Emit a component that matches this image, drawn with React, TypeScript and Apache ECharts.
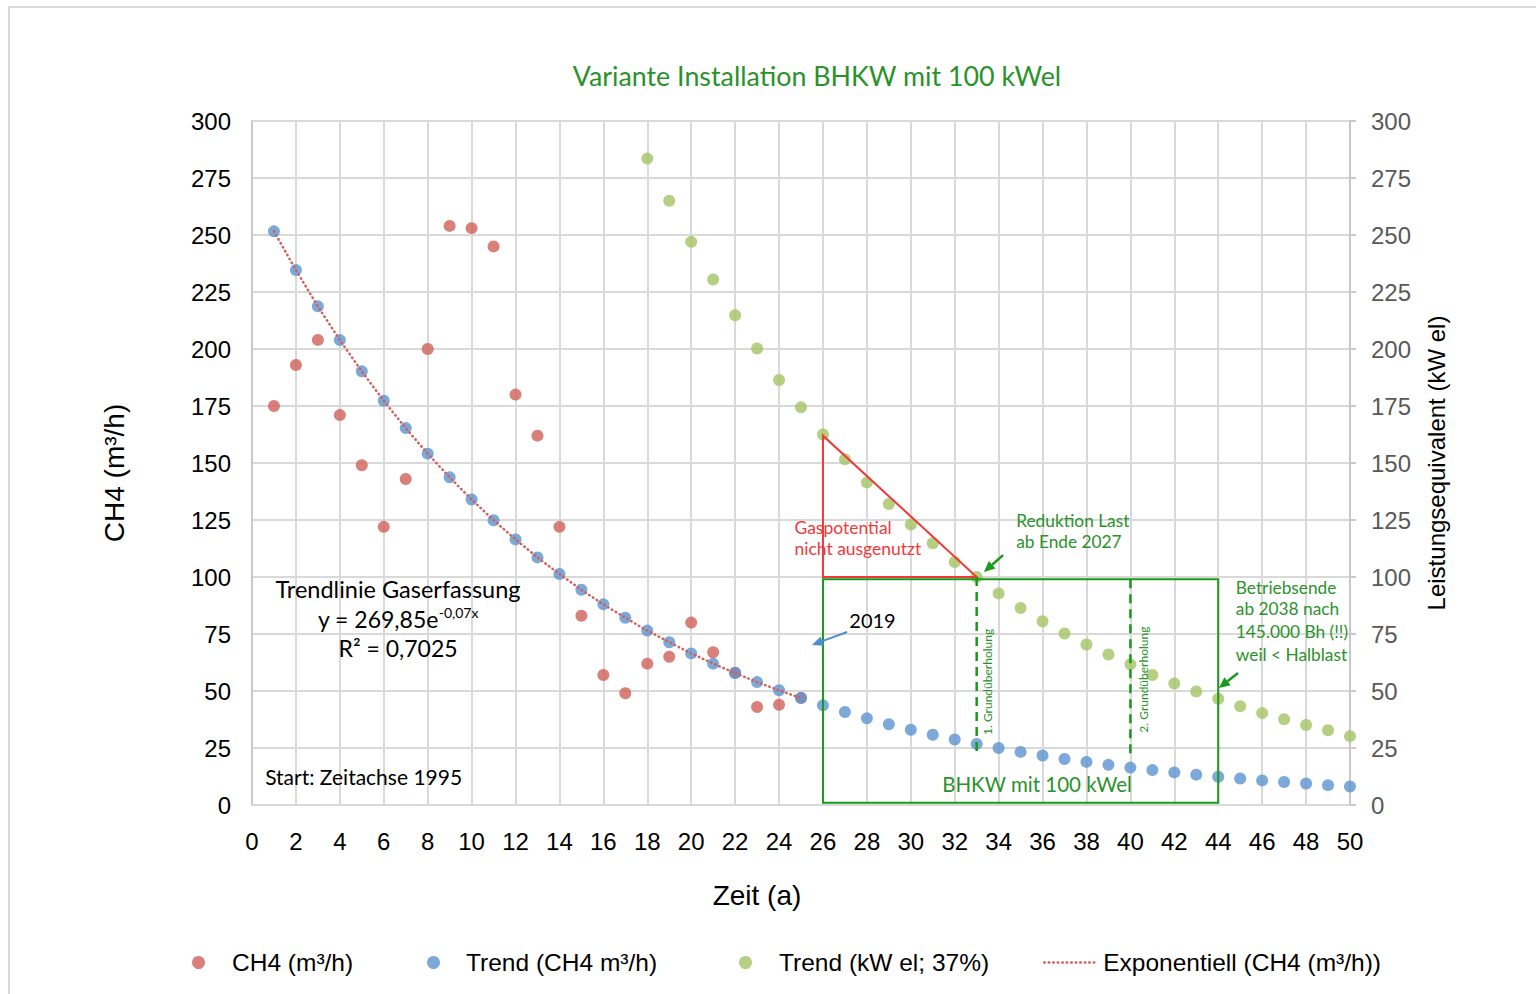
import React, { useEffect, useRef } from "react";
import * as echarts from "echarts";

// ---- Data ----
const ch4X = [1, 2, 3, 4, 5, 6, 7, 8, 9, 10, 11, 12, 13, 14, 15, 16, 17, 18, 19, 20, 21, 22, 23, 24, 25];
const ch4Values = [175, 193, 204, 171, 149, 122, 143, 200, 254, 253, 245, 180, 162, 122, 83, 57, 49, 62, 65, 80, 67, 58, 43, 44, 47];

const trendX = [1, 2, 3, 4, 5, 6, 7, 8, 9, 10, 11, 12, 13, 14, 15, 16, 17, 18, 19, 20, 21, 22, 23, 24, 25,
  26, 27, 28, 29, 30, 31, 32, 33, 34, 35, 36, 37, 38, 39, 40, 41, 42, 43, 44, 45, 46, 47, 48, 49, 50];
const trendCh4 = [251.6, 234.6, 218.7, 203.9, 190.2, 177.3, 165.3, 154.1, 143.7, 134.0, 124.9, 116.5, 108.6, 101.3, 94.4,
  88.0, 82.1, 76.5, 71.4, 66.5, 62.0, 57.9, 53.9, 50.3, 46.9, 43.7, 40.8, 38.0, 35.4, 33.0, 30.8, 28.7, 26.8, 25.0, 23.3,
  21.7, 20.2, 18.9, 17.6, 16.4, 15.3, 14.3, 13.3, 12.4, 11.6, 10.8, 10.1, 9.4, 8.7, 8.1];

const kwX = [18, 19, 20, 21, 22, 23, 24, 25, 26, 27, 28, 29, 30, 31, 32, 33, 34, 35, 36, 37, 38, 39, 40, 41, 42, 43, 44, 45, 46, 47, 48, 49, 50];
const kwValues = [283.5, 265, 247, 230.5, 214.8, 200.2, 186.4, 174.4, 162.5, 151.6, 141.5, 132, 123, 114.8, 106.6, 100, 92.8,
  86.4, 80.6, 75.2, 70.4, 66, 61.7, 57, 53.3, 49.8, 46.6, 43.3, 40.3, 37.6, 35.1, 32.8, 30.2];

// Exponential trendline (over the CH4 measurement range)
const expX = ch4X;
const expValues = trendCh4.slice(0, 25);

const xTicks = { min: 0, max: 50, interval: 2 };
const yTicks = { min: 0, max: 300, interval: 25 };

const names = {
  ch4: "CH4 (m³/h)",
  trend: "Trend (CH4 m³/h)",
  kw: "Trend (kW el; 37%)",
  exp: "Exponentiell (CH4 (m³/h))",
};

const RED = "#D0605A";
const BLUE = "#5B93CF";
const GREEN = "#A3C464";
const LINE_GREEN = "#1a9a1a";
const TEXT_GREEN = "#2a922a";
const ANN_RED = "#f03a3a";
const CAL = "Lato, 'Open Sans', sans-serif";
const ARIAL = "'Liberation Sans', Arial, sans-serif";

export default function App() {
  const ref = useRef<HTMLDivElement>(null);

  useEffect(() => {
    if (!ref.current) return;
    const chart = echarts.init(ref.current, null, { renderer: "svg" });

    const legendBase = (name: string, left: number, itemWidth: number, padLeft: number) => ({
      data: [name],
      left,
      top: 945,
      orient: "horizontal",
      itemWidth,
      itemHeight: 13,
      textStyle: { fontFamily: ARIAL, fontSize: 24.5, color: "#000", padding: [0, 0, 0, padLeft] },
    });

    chart.setOption({
      animation: false,
      backgroundColor: "#fff",
      title: {
        text: "Variante Installation BHKW mit 100 kWel",
        left: 812,
        top: 57,
        textAlign: "center",
        textStyle: { fontFamily: CAL, fontSize: 26.8, fontWeight: "normal", color: TEXT_GREEN },
      },
      legend: [
        { ...legendBase(names.ch4, 187, 13, 22), icon: "circle" },
        { ...legendBase(names.trend, 422, 13, 21), icon: "circle" },
        { ...legendBase(names.kw, 734, 13, 22), icon: "circle" },
        {
          ...legendBase(names.exp, 1038, 54, 0),
          itemStyle: { color: "rgba(0,0,0,0)", borderWidth: 0 },
          lineStyle: { color: RED, width: 2.5, type: [0.5, 4], cap: "round" },
        },
      ],
      grid: { left: 252, right: 186, top: 121, bottom: 189, containLabel: false },
      xAxis: {
        type: "value",
        min: xTicks.min,
        max: xTicks.max,
        interval: xTicks.interval,
        name: "Zeit (a)",
        nameLocation: "middle",
        nameGap: 76,
        nameTextStyle: { fontFamily: ARIAL, fontSize: 28, color: "#000", padding: [0, 88, 0, 0] },
        axisLine: { show: true, lineStyle: { color: "#d9d9d9", width: 2 } },
        axisTick: { show: false },
        axisLabel: { fontFamily: ARIAL, fontSize: 24, color: "#000", margin: 24 },
        splitLine: { show: true, lineStyle: { color: "#d9d9d9", width: 2 } },
      },
      yAxis: [
        {
          type: "value",
          min: yTicks.min,
          max: yTicks.max,
          interval: yTicks.interval,
          position: "left",
          name: "CH4 (m³/h)",
          nameLocation: "middle",
          nameRotate: 90,
          nameGap: 124,
          nameTextStyle: { fontFamily: ARIAL, fontSize: 28, color: "#000", padding: [0, 20, 0, 0] },
          axisLine: { show: true, lineStyle: { color: "#c8c8c8", width: 2 } },
          axisTick: { show: false },
          axisLabel: { fontFamily: ARIAL, fontSize: 24, color: "#000", margin: 21 },
          splitLine: { show: true, lineStyle: { color: "#d9d9d9", width: 2 } },
        },
        {
          type: "value",
          min: yTicks.min,
          max: yTicks.max,
          interval: yTicks.interval,
          position: "right",
          name: "Leistungsequivalent (kW el)",
          nameLocation: "middle",
          nameRotate: 90,
          nameGap: 74,
          nameTextStyle: { fontFamily: ARIAL, fontSize: 24, color: "#000" },
          axisLine: { show: true, lineStyle: { color: "#c8c8c8", width: 2 } },
          axisTick: { show: true, length: 6, lineStyle: { color: "#c8c8c8", width: 2 } },
          axisLabel: { fontFamily: ARIAL, fontSize: 24, color: "#595959", margin: 21 },
          splitLine: { show: false },
        },
      ],
      series: [
        {
          name: names.ch4,
          type: "scatter",
          symbol: "circle",
          symbolSize: 12,
          itemStyle: { color: RED },
          data: ch4X.map((x, i) => [x, ch4Values[i]]),
          z: 2,
        },
        {
          name: names.trend,
          type: "scatter",
          symbol: "circle",
          symbolSize: 12,
          itemStyle: { color: BLUE },
          data: trendX.map((x, i) => [x, trendCh4[i]]),
          z: 3,
        },
        {
          name: names.kw,
          type: "scatter",
          symbol: "circle",
          symbolSize: 12,
          yAxisIndex: 1,
          itemStyle: { color: GREEN },
          data: kwX.map((x, i) => [x, kwValues[i]]),
          z: 3,
        },
        {
          name: names.exp,
          type: "line",
          showSymbol: false,
          symbol: "none",
          itemStyle: { color: RED },
          lineStyle: { color: RED, width: 2.5, type: [0.5, 4], cap: "round" },
          data: expX.map((x, i) => [x, expValues[i]]),
          z: 4,
        },
      ],
    });

    const p = (x: number, y: number) => chart.convertToPixel({ xAxisIndex: 0, yAxisIndex: 0 }, [x, y]) as number[];

    const arrow = (from: number[], to: number[], color: string, width: number) => {
      const dx = to[0] - from[0];
      const dy = to[1] - from[1];
      const len = Math.sqrt(dx * dx + dy * dy);
      const ux = dx / len, uy = dy / len;
      const hl = 11, hw = 5;
      const bx = to[0] - ux * hl, by = to[1] - uy * hl;
      return [
        { type: "line", shape: { x1: from[0], y1: from[1], x2: bx, y2: by }, style: { stroke: color, lineWidth: width }, z: 20 },
        {
          type: "polygon",
          shape: { points: [[to[0], to[1]], [bx - uy * hw, by + ux * hw], [bx + uy * hw, by - ux * hw]] },
          style: { fill: color },
          z: 20,
        },
      ];
    };

    const text = (x: number, y: number, t: string, size: number, color: string, align = "left", extra: any = {}) => {
      const q = p(x, y);
      return {
        type: "text",
        x: q[0],
        y: q[1],
        z: 20,
        ...extra,
        style: { text: t, fontFamily: CAL, fontSize: size, fill: color, align, verticalAlign: "middle", ...(extra.style || {}) },
      };
    };

    const tri = [p(26, 162), p(26, 100), p(33, 100)];
    const b1 = p(26, 99);
    const b2 = p(44, 1);
    const d1a = p(33, 100), d1b = p(33, 22);
    const d2a = p(40, 99), d2b = p(40, 22);
    const g1 = p(33.5, 54), g2 = p(40.6, 55);

    const graphic: any[] = [
      { type: "rect", shape: { x: 9, y: 7, width: 1540, height: 1000 }, style: { fill: "none", stroke: "#d9d9d9", lineWidth: 2 }, z: 0 },
      { type: "polygon", shape: { points: tri }, style: { fill: "none", stroke: ANN_RED, lineWidth: 2 }, z: 20 },
      {
        type: "rect",
        shape: { x: b1[0], y: b1[1], width: b2[0] - b1[0], height: b2[1] - b1[1] },
        style: { fill: "none", stroke: LINE_GREEN, lineWidth: 2 },
        z: 20,
      },
      { type: "line", shape: { x1: d1a[0], y1: d1a[1], x2: d1b[0], y2: d1b[1] }, style: { stroke: LINE_GREEN, lineWidth: 2.5, lineDash: [9, 6] }, z: 20 },
      { type: "line", shape: { x1: d2a[0], y1: d2a[1], x2: d2b[0], y2: d2b[1] }, style: { stroke: LINE_GREEN, lineWidth: 2.5, lineDash: [9, 6] }, z: 20 },
      {
        type: "text", x: g1[0], y: g1[1], rotation: Math.PI / 2, z: 20,
        style: { text: "1. Grundüberholung", fontFamily: CAL, fontSize: 12, fill: TEXT_GREEN, align: "center", verticalAlign: "middle" },
      },
      {
        type: "text", x: g2[0], y: g2[1], rotation: Math.PI / 2, z: 20,
        style: { text: "2. Grundüberholung", fontFamily: CAL, fontSize: 12, fill: TEXT_GREEN, align: "center", verticalAlign: "middle" },
      },
      text(35.75, 9.2, "BHKW mit 100 kWel", 20.5, TEXT_GREEN, "center"),
      text(24.7, 121.9, "Gaspotential", 17.5, ANN_RED),
      text(24.7, 112.7, "nicht ausgenutzt", 17.5, ANN_RED),
      text(34.8, 124.6, "Reduktion Last", 17.3, TEXT_GREEN),
      text(34.8, 115.4, "ab Ende 2027", 17.3, TEXT_GREEN),
      text(44.8, 95.6, "Betriebsende", 17.3, TEXT_GREEN),
      text(44.8, 86.4, "ab 2038 nach", 17.3, TEXT_GREEN),
      text(44.8, 76.3, "145.000 Bh (!!)", 17.3, TEXT_GREEN),
      text(44.8, 66.2, "weil < Halblast", 17.3, TEXT_GREEN),
      text(27.2, 81.1, "2019", 20, "#000"),
      text(6.65, 94.7, "Trendlinie Gaserfassung", 23.5, "#000", "center"),
      {
        ...text(6.65, 81.6, "", 23, "#000", "center"),
        style: {
          text: "y = 269,85e{sup|-0,07x}",
          fontFamily: CAL,
          fontSize: 23,
          fill: "#000",
          align: "center",
          verticalAlign: "middle",
          rich: { sup: { fontFamily: CAL, fontSize: 14, fill: "#000", padding: [0, 0, 12, 0] } },
        },
      },
      text(6.65, 68.9, "R² = 0,7025", 23, "#000", "center"),
      text(0.6, 12.7, "Start: Zeitachse 1995", 21, "#000"),
      ...arrow(p(34.2, 109.6), p(33.33, 102.2), LINE_GREEN, 2.5),
      ...arrow(p(44.9, 57.9), p(44.03, 51.3), LINE_GREEN, 2.5),
      ...arrow(p(27.1, 75.9), p(25.5, 70.2), "#4a8fd0", 2),
    ];

    chart.setOption({ graphic });

    return () => chart.dispose();
  }, []);

  return (
    <div
      ref={ref}
      style={{ position: "absolute", left: 0, top: 0, width: 1536, height: 994, background: "#fff" }}
    />
  );
}
